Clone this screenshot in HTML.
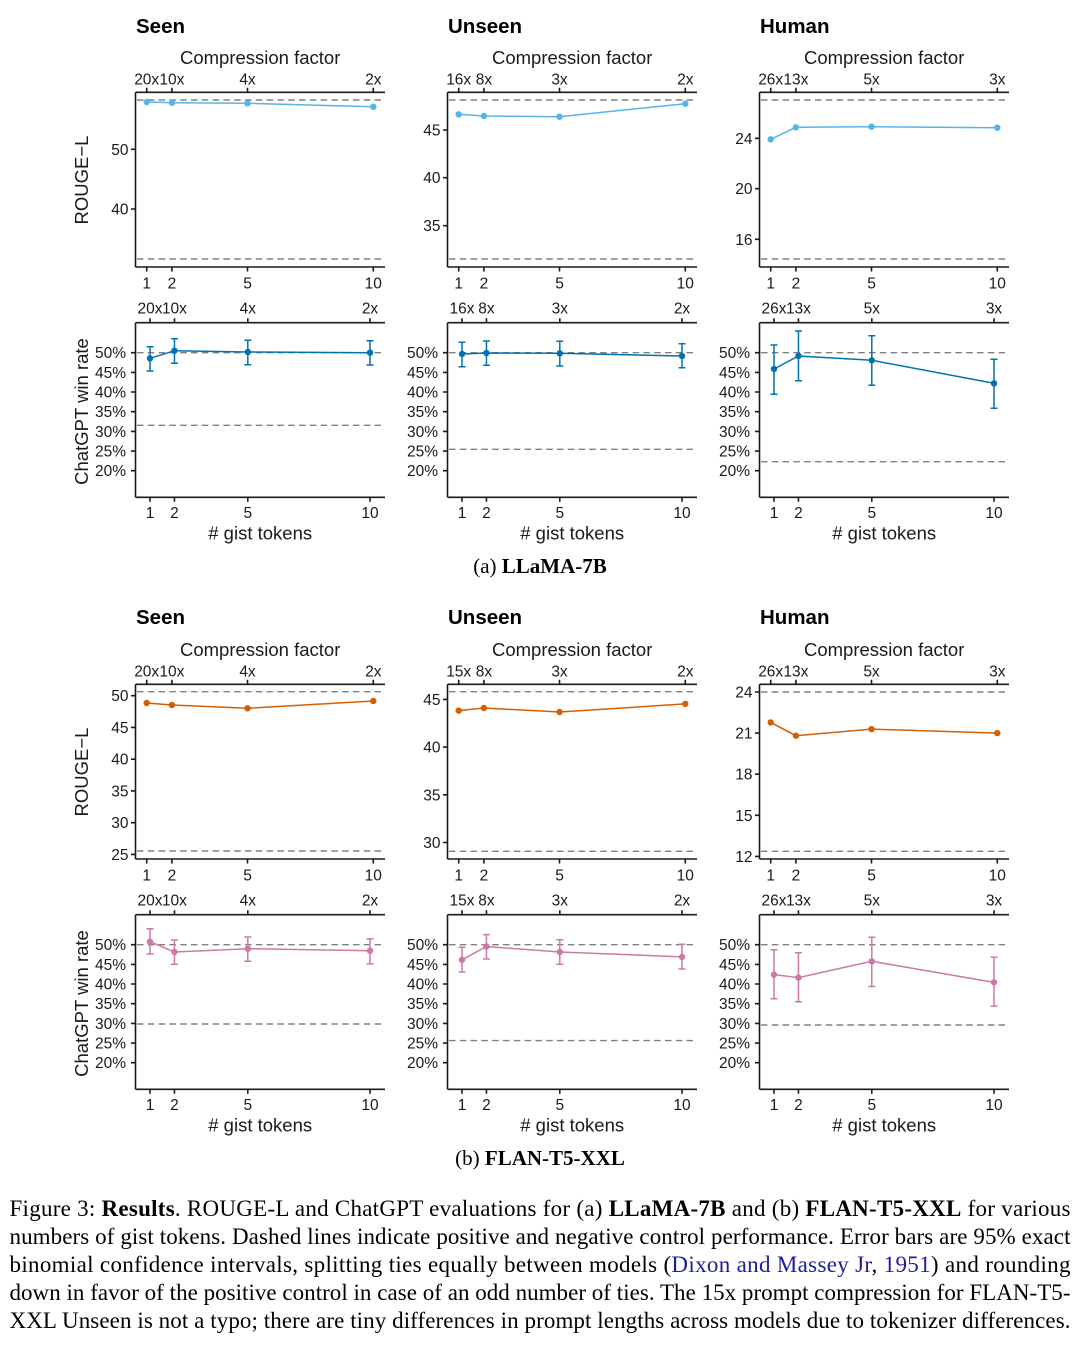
<!DOCTYPE html>
<html>
<head>
<meta charset="utf-8">
<style>
html,body{margin:0;padding:0;background:#fff;}
svg{display:block;}
.tk{font-family:"Liberation Sans",Arial,sans-serif;font-size:15.5px;fill:#1a1a1a;}
.ax{font-family:"Liberation Sans",Arial,sans-serif;font-size:18.5px;fill:#1a1a1a;}
.ti{font-family:"Liberation Sans",Arial,sans-serif;font-size:20.5px;font-weight:bold;fill:#000;}
.axl{stroke:#1a1a1a;stroke-width:1.6;fill:none;}
.dash{stroke:#808080;stroke-width:1.4;stroke-dasharray:6.5 4.3;fill:none;}
.cap{font-family:"Liberation Serif","Times New Roman",serif;font-size:23px;fill:#000;}
.sub{font-family:"Liberation Serif","Times New Roman",serif;font-size:21px;fill:#000;}
.lb{stroke:#56B4E9;}
.db{stroke:#0072B2;}
.or{stroke:#D55E00;}
.pk{stroke:#CC79A7;}
</style>
</head>
<body>
<svg width="1080" height="1358" viewBox="0 0 1080 1358" xmlns="http://www.w3.org/2000/svg">
<rect width="1080" height="1358" fill="#fff"/>

<!-- ===================== FIGURE A ===================== -->
<text class="ax" transform="translate(88,180) rotate(-90)" text-anchor="middle">ROUGE−L</text>
<text class="ax" transform="translate(88,411.5) rotate(-90)" text-anchor="middle">ChatGPT win rate</text>

<!-- A col1 ROUGE Seen -->
<g>
<text class="ti" x="136" y="33">Seen</text>
<text class="ax" x="260.2" y="64" text-anchor="middle">Compression factor</text>
<g class="tk" text-anchor="middle">
<text x="146.7" y="84.5">20x</text><text x="171.9" y="84.5">10x</text><text x="247.5" y="84.5">4x</text><text x="373.3" y="84.5">2x</text>
<text x="146.7" y="288.3">1</text><text x="171.9" y="288.3">2</text><text x="247.5" y="288.3">5</text><text x="373.3" y="288.3">10</text>
</g>
<g class="tk" text-anchor="end">
<text x="128.5" y="154.8">50</text><text x="128.5" y="214.5">40</text>
</g>
<path class="axl" d="M135.5 92.3H385M135.5 92.3V267M135.5 267H385M146.7 92.3V87.8M171.9 92.3V87.8M247.5 92.3V87.8M373.3 92.3V87.8M146.7 267V271.5M171.9 267V271.5M247.5 267V271.5M373.3 267V271.5M131 149.3H135.5M131 209H135.5"/>
<path class="dash" d="M137 100H381M137 259H381"/>
<polyline class="lb" fill="none" stroke-width="1.5" points="146.7,102 171.9,102.7 247.5,103.3 373.3,106.7"/>
<g fill="#56B4E9"><circle cx="146.7" cy="102" r="3.2"/><circle cx="171.9" cy="102.7" r="3.2"/><circle cx="247.5" cy="103.3" r="3.2"/><circle cx="373.3" cy="106.7" r="3.2"/></g>
</g>

<!-- A col2 ROUGE Unseen -->
<g transform="translate(312,0)">
<text class="ti" x="136" y="33">Unseen</text>
<text class="ax" x="260.2" y="64" text-anchor="middle">Compression factor</text>
<g class="tk" text-anchor="middle">
<text x="146.7" y="84.5">16x</text><text x="171.9" y="84.5">8x</text><text x="247.5" y="84.5">3x</text><text x="373.3" y="84.5">2x</text>
<text x="146.7" y="288.3">1</text><text x="171.9" y="288.3">2</text><text x="247.5" y="288.3">5</text><text x="373.3" y="288.3">10</text>
</g>
<g class="tk" text-anchor="end">
<text x="128.5" y="135.5">45</text><text x="128.5" y="183.2">40</text><text x="128.5" y="231.2">35</text>
</g>
<path class="axl" d="M135.5 92.3H385M135.5 92.3V267M135.5 267H385M146.7 92.3V87.8M171.9 92.3V87.8M247.5 92.3V87.8M373.3 92.3V87.8M146.7 267V271.5M171.9 267V271.5M247.5 267V271.5M373.3 267V271.5M131 130H135.5M131 177.7H135.5M131 225.7H135.5"/>
<path class="dash" d="M137 100H381M137 259H381"/>
<polyline class="lb" fill="none" stroke-width="1.5" points="146.7,114.3 171.9,116 247.5,116.7 373.3,103.7"/>
<g fill="#56B4E9"><circle cx="146.7" cy="114.3" r="3.2"/><circle cx="171.9" cy="116" r="3.2"/><circle cx="247.5" cy="116.7" r="3.2"/><circle cx="373.3" cy="103.7" r="3.2"/></g>
</g>

<!-- A col3 ROUGE Human -->
<g transform="translate(624,0)">
<text class="ti" x="136" y="33">Human</text>
<text class="ax" x="260.2" y="64" text-anchor="middle">Compression factor</text>
<g class="tk" text-anchor="middle">
<text x="146.7" y="84.5">26x</text><text x="171.9" y="84.5">13x</text><text x="247.5" y="84.5">5x</text><text x="373.3" y="84.5">3x</text>
<text x="146.7" y="288.3">1</text><text x="171.9" y="288.3">2</text><text x="247.5" y="288.3">5</text><text x="373.3" y="288.3">10</text>
</g>
<g class="tk" text-anchor="end">
<text x="128.5" y="143.8">24</text><text x="128.5" y="194.2">20</text><text x="128.5" y="244.8">16</text>
</g>
<path class="axl" d="M135.5 92.3H385M135.5 92.3V267M135.5 267H385M146.7 92.3V87.8M171.9 92.3V87.8M247.5 92.3V87.8M373.3 92.3V87.8M146.7 267V271.5M171.9 267V271.5M247.5 267V271.5M373.3 267V271.5M131 138.3H135.5M131 188.7H135.5M131 239.3H135.5"/>
<path class="dash" d="M137 100H381M137 259H381"/>
<polyline class="lb" fill="none" stroke-width="1.5" points="146.7,139.3 171.9,127.3 247.5,126.7 373.3,127.7"/>
<g fill="#56B4E9"><circle cx="146.7" cy="139.3" r="3.2"/><circle cx="171.9" cy="127.3" r="3.2"/><circle cx="247.5" cy="126.7" r="3.2"/><circle cx="373.3" cy="127.7" r="3.2"/></g>
</g>

<!-- A chat col1 -->
<g>
<g class="tk" text-anchor="middle">
<text x="150" y="313.5">20x</text><text x="174.45" y="313.5">10x</text><text x="247.8" y="313.5">4x</text><text x="370" y="313.5">2x</text>
<text x="150" y="517.8">1</text><text x="174.45" y="517.8">2</text><text x="247.8" y="517.8">5</text><text x="370" y="517.8">10</text>
</g>
<text class="ax" x="260.2" y="539.5" text-anchor="middle"># gist tokens</text>
<g class="tk" text-anchor="end">
<text x="126" y="358.2">50%</text><text x="126" y="377.9">45%</text><text x="126" y="397.5">40%</text><text x="126" y="417.2">35%</text><text x="126" y="436.9">30%</text><text x="126" y="456.6">25%</text><text x="126" y="476.2">20%</text>
</g>
<path class="axl" d="M135.5 322.7H385M135.5 322.7V497.3M135.5 497.3H385M150 322.7V318.2M174.45 322.7V318.2M247.8 322.7V318.2M370 322.7V318.2M150 497.3V501.8M174.45 497.3V501.8M247.8 497.3V501.8M370 497.3V501.8M131 352.7H135.5M131 372.4H135.5M131 392H135.5M131 411.7H135.5M131 431.4H135.5M131 451.1H135.5M131 470.7H135.5"/>
<path class="dash" d="M137 352.7H381M137 425.3H381"/>
<polyline class="db" fill="none" stroke-width="1.5" points="150,358.3 174.45,350.7 247.8,352 370,352.7"/>
<path class="db" stroke-width="1.5" fill="none" d="M150 346.7V371M146.5 346.7H153.5M146.5 371H153.5M174.45 338.7V363.3M170.95 338.7H177.95M170.95 363.3H177.95M247.8 340.3V364.7M244.3 340.3H251.3M244.3 364.7H251.3M370 340.7V365M366.5 340.7H373.5M366.5 365H373.5"/>
<g fill="#0072B2"><circle cx="150" cy="358.3" r="3.2"/><circle cx="174.45" cy="350.7" r="3.2"/><circle cx="247.8" cy="352" r="3.2"/><circle cx="370" cy="352.7" r="3.2"/></g>
</g>

<g transform="translate(312,0)">
<g class="tk" text-anchor="middle">
<text x="150" y="313.5">16x</text><text x="174.45" y="313.5">8x</text><text x="247.8" y="313.5">3x</text><text x="370" y="313.5">2x</text>
<text x="150" y="517.8">1</text><text x="174.45" y="517.8">2</text><text x="247.8" y="517.8">5</text><text x="370" y="517.8">10</text>
</g>
<text class="ax" x="260.2" y="539.5" text-anchor="middle"># gist tokens</text>
<g class="tk" text-anchor="end">
<text x="126" y="358.2">50%</text><text x="126" y="377.9">45%</text><text x="126" y="397.5">40%</text><text x="126" y="417.2">35%</text><text x="126" y="436.9">30%</text><text x="126" y="456.6">25%</text><text x="126" y="476.2">20%</text>
</g>
<path class="axl" d="M135.5 322.7H385M135.5 322.7V497.3M135.5 497.3H385M150 322.7V318.2M174.45 322.7V318.2M247.8 322.7V318.2M370 322.7V318.2M150 497.3V501.8M174.45 497.3V501.8M247.8 497.3V501.8M370 497.3V501.8M131 352.7H135.5M131 372.4H135.5M131 392H135.5M131 411.7H135.5M131 431.4H135.5M131 451.1H135.5M131 470.7H135.5"/>
<path class="dash" d="M137 352.7H381M137 449.3H381"/>
<polyline class="db" fill="none" stroke-width="1.5" points="150,354 174.45,353 247.8,353.3 370,356"/>
<path class="db" stroke-width="1.5" fill="none" d="M150 342.3V366.7M146.5 342.3H153.5M146.5 366.7H153.5M174.45 341V365.3M170.95 341H177.95M170.95 365.3H177.95M247.8 341.3V366M244.3 341.3H251.3M244.3 366H251.3M370 343.7V367.7M366.5 343.7H373.5M366.5 367.7H373.5"/>
<g fill="#0072B2"><circle cx="150" cy="354" r="3.2"/><circle cx="174.45" cy="353" r="3.2"/><circle cx="247.8" cy="353.3" r="3.2"/><circle cx="370" cy="356" r="3.2"/></g>
</g>

<g transform="translate(624,0)">
<g class="tk" text-anchor="middle">
<text x="150" y="313.5">26x</text><text x="174.45" y="313.5">13x</text><text x="247.8" y="313.5">5x</text><text x="370" y="313.5">3x</text>
<text x="150" y="517.8">1</text><text x="174.45" y="517.8">2</text><text x="247.8" y="517.8">5</text><text x="370" y="517.8">10</text>
</g>
<text class="ax" x="260.2" y="539.5" text-anchor="middle"># gist tokens</text>
<g class="tk" text-anchor="end">
<text x="126" y="358.2">50%</text><text x="126" y="377.9">45%</text><text x="126" y="397.5">40%</text><text x="126" y="417.2">35%</text><text x="126" y="436.9">30%</text><text x="126" y="456.6">25%</text><text x="126" y="476.2">20%</text>
</g>
<path class="axl" d="M135.5 322.7H385M135.5 322.7V497.3M135.5 497.3H385M150 322.7V318.2M174.45 322.7V318.2M247.8 322.7V318.2M370 322.7V318.2M150 497.3V501.8M174.45 497.3V501.8M247.8 497.3V501.8M370 497.3V501.8M131 352.7H135.5M131 372.4H135.5M131 392H135.5M131 411.7H135.5M131 431.4H135.5M131 451.1H135.5M131 470.7H135.5"/>
<path class="dash" d="M137 352.7H381M137 461.7H381"/>
<polyline class="db" fill="none" stroke-width="1.5" points="150,369 174.45,356 247.8,360.3 370,383.3"/>
<path class="db" stroke-width="1.5" fill="none" d="M150 345V394.3M146.5 345H153.5M146.5 394.3H153.5M174.45 331V380.7M170.95 331H177.95M170.95 380.7H177.95M247.8 335.7V385.3M244.3 335.7H251.3M244.3 385.3H251.3M370 359.3V408.3M366.5 359.3H373.5M366.5 408.3H373.5"/>
<g fill="#0072B2"><circle cx="150" cy="369" r="3.2"/><circle cx="174.45" cy="356" r="3.2"/><circle cx="247.8" cy="360.3" r="3.2"/><circle cx="370" cy="383.3" r="3.2"/></g>
</g>

<text class="sub" x="540" y="573" text-anchor="middle">(a) <tspan font-weight="bold">LLaMA-7B</tspan></text>

<!-- ===================== FIGURE B ===================== -->
<g transform="translate(0,592)">
<text class="ax" transform="translate(88,180) rotate(-90)" text-anchor="middle">ROUGE−L</text>
<text class="ax" transform="translate(88,411.5) rotate(-90)" text-anchor="middle">ChatGPT win rate</text>

<g>
<text class="ti" x="136" y="32">Seen</text>
<text class="ax" x="260.2" y="64" text-anchor="middle">Compression factor</text>
<g class="tk" text-anchor="middle">
<text x="146.7" y="84.5">20x</text><text x="171.9" y="84.5">10x</text><text x="247.5" y="84.5">4x</text><text x="373.3" y="84.5">2x</text>
<text x="146.7" y="288.3">1</text><text x="171.9" y="288.3">2</text><text x="247.5" y="288.3">5</text><text x="373.3" y="288.3">10</text>
</g>
<g class="tk" text-anchor="end">
<text x="128.5" y="109.2">50</text><text x="128.5" y="140.9">45</text><text x="128.5" y="172.7">40</text><text x="128.5" y="204.4">35</text><text x="128.5" y="236.2">30</text><text x="128.5" y="267.9">25</text>
</g>
<path class="axl" d="M135.5 92.3H385M135.5 92.3V267M135.5 267H385M146.7 92.3V87.8M171.9 92.3V87.8M247.5 92.3V87.8M373.3 92.3V87.8M146.7 267V271.5M171.9 267V271.5M247.5 267V271.5M373.3 267V271.5M131 103.7H135.5M131 135.4H135.5M131 167.2H135.5M131 198.9H135.5M131 230.7H135.5M131 262.4H135.5"/>
<path class="dash" d="M137 99.7H381M137 259H381"/>
<polyline class="or" fill="none" stroke-width="1.5" points="146.7,111 171.9,113 247.5,116.3 373.3,109"/>
<g fill="#D55E00"><circle cx="146.7" cy="111" r="3.2"/><circle cx="171.9" cy="113" r="3.2"/><circle cx="247.5" cy="116.3" r="3.2"/><circle cx="373.3" cy="109" r="3.2"/></g>
</g>

<g transform="translate(312,0)">
<text class="ti" x="136" y="32">Unseen</text>
<text class="ax" x="260.2" y="64" text-anchor="middle">Compression factor</text>
<g class="tk" text-anchor="middle">
<text x="146.7" y="84.5">15x</text><text x="171.9" y="84.5">8x</text><text x="247.5" y="84.5">3x</text><text x="373.3" y="84.5">2x</text>
<text x="146.7" y="288.3">1</text><text x="171.9" y="288.3">2</text><text x="247.5" y="288.3">5</text><text x="373.3" y="288.3">10</text>
</g>
<g class="tk" text-anchor="end">
<text x="128.5" y="112.9">45</text><text x="128.5" y="160.6">40</text><text x="128.5" y="208.3">35</text><text x="128.5" y="256">30</text>
</g>
<path class="axl" d="M135.5 92.3H385M135.5 92.3V267M135.5 267H385M146.7 92.3V87.8M171.9 92.3V87.8M247.5 92.3V87.8M373.3 92.3V87.8M146.7 267V271.5M171.9 267V271.5M247.5 267V271.5M373.3 267V271.5M131 107.4H135.5M131 155.1H135.5M131 202.8H135.5M131 250.5H135.5"/>
<path class="dash" d="M137 99.7H381M137 259.3H381"/>
<polyline class="or" fill="none" stroke-width="1.5" points="146.7,118.6 171.9,116 247.5,120 373.3,111.9"/>
<g fill="#D55E00"><circle cx="146.7" cy="118.6" r="3.2"/><circle cx="171.9" cy="116" r="3.2"/><circle cx="247.5" cy="120" r="3.2"/><circle cx="373.3" cy="111.9" r="3.2"/></g>
</g>

<g transform="translate(624,0)">
<text class="ti" x="136" y="32">Human</text>
<text class="ax" x="260.2" y="64" text-anchor="middle">Compression factor</text>
<g class="tk" text-anchor="middle">
<text x="146.7" y="84.5">26x</text><text x="171.9" y="84.5">13x</text><text x="247.5" y="84.5">5x</text><text x="373.3" y="84.5">3x</text>
<text x="146.7" y="288.3">1</text><text x="171.9" y="288.3">2</text><text x="247.5" y="288.3">5</text><text x="373.3" y="288.3">10</text>
</g>
<g class="tk" text-anchor="end">
<text x="128.5" y="105.5">24</text><text x="128.5" y="146.6">21</text><text x="128.5" y="187.7">18</text><text x="128.5" y="228.8">15</text><text x="128.5" y="269.9">12</text>
</g>
<path class="axl" d="M135.5 92.3H385M135.5 92.3V267M135.5 267H385M146.7 92.3V87.8M171.9 92.3V87.8M247.5 92.3V87.8M373.3 92.3V87.8M146.7 267V271.5M171.9 267V271.5M247.5 267V271.5M373.3 267V271.5M131 100H135.5M131 141.1H135.5M131 182.2H135.5M131 223.3H135.5M131 264.4H135.5"/>
<path class="dash" d="M137 100H381M137 259.3H381"/>
<polyline class="or" fill="none" stroke-width="1.5" points="146.7,130.4 171.9,143.7 247.5,137.1 373.3,141.1"/>
<g fill="#D55E00"><circle cx="146.7" cy="130.4" r="3.2"/><circle cx="171.9" cy="143.7" r="3.2"/><circle cx="247.5" cy="137.1" r="3.2"/><circle cx="373.3" cy="141.1" r="3.2"/></g>
</g>

<g>
<g class="tk" text-anchor="middle">
<text x="150" y="313.5">20x</text><text x="174.45" y="313.5">10x</text><text x="247.8" y="313.5">4x</text><text x="370" y="313.5">2x</text>
<text x="150" y="517.8">1</text><text x="174.45" y="517.8">2</text><text x="247.8" y="517.8">5</text><text x="370" y="517.8">10</text>
</g>
<text class="ax" x="260.2" y="539.5" text-anchor="middle"># gist tokens</text>
<g class="tk" text-anchor="end">
<text x="126" y="358.2">50%</text><text x="126" y="377.9">45%</text><text x="126" y="397.5">40%</text><text x="126" y="417.2">35%</text><text x="126" y="436.9">30%</text><text x="126" y="456.6">25%</text><text x="126" y="476.2">20%</text>
</g>
<path class="axl" d="M135.5 322.7H385M135.5 322.7V497.3M135.5 497.3H385M150 322.7V318.2M174.45 322.7V318.2M247.8 322.7V318.2M370 322.7V318.2M150 497.3V501.8M174.45 497.3V501.8M247.8 497.3V501.8M370 497.3V501.8M131 352.7H135.5M131 372.4H135.5M131 392H135.5M131 411.7H135.5M131 431.4H135.5M131 451.1H135.5M131 470.7H135.5"/>
<path class="dash" d="M137 352.7H381M137 432H381"/>
<polyline class="pk" fill="none" stroke-width="1.5" points="150,349.7 174.45,360 247.8,356.7 370,358.7"/>
<path class="pk" stroke-width="1.5" fill="none" d="M150 336.7V362M146.5 336.7H153.5M146.5 362H153.5M174.45 348V372.3M170.95 348H177.95M170.95 372.3H177.95M247.8 345V369.3M244.3 345H251.3M244.3 369.3H251.3M370 346.7V371.7M366.5 346.7H373.5M366.5 371.7H373.5"/>
<g fill="#CC79A7"><circle cx="150" cy="349.7" r="3.2"/><circle cx="174.45" cy="360" r="3.2"/><circle cx="247.8" cy="356.7" r="3.2"/><circle cx="370" cy="358.7" r="3.2"/></g>
</g>

<g transform="translate(312,0)">
<g class="tk" text-anchor="middle">
<text x="150" y="313.5">15x</text><text x="174.45" y="313.5">8x</text><text x="247.8" y="313.5">3x</text><text x="370" y="313.5">2x</text>
<text x="150" y="517.8">1</text><text x="174.45" y="517.8">2</text><text x="247.8" y="517.8">5</text><text x="370" y="517.8">10</text>
</g>
<text class="ax" x="260.2" y="539.5" text-anchor="middle"># gist tokens</text>
<g class="tk" text-anchor="end">
<text x="126" y="358.2">50%</text><text x="126" y="377.9">45%</text><text x="126" y="397.5">40%</text><text x="126" y="417.2">35%</text><text x="126" y="436.9">30%</text><text x="126" y="456.6">25%</text><text x="126" y="476.2">20%</text>
</g>
<path class="axl" d="M135.5 322.7H385M135.5 322.7V497.3M135.5 497.3H385M150 322.7V318.2M174.45 322.7V318.2M247.8 322.7V318.2M370 322.7V318.2M150 497.3V501.8M174.45 497.3V501.8M247.8 497.3V501.8M370 497.3V501.8M131 352.7H135.5M131 372.4H135.5M131 392H135.5M131 411.7H135.5M131 431.4H135.5M131 451.1H135.5M131 470.7H135.5"/>
<path class="dash" d="M137 352.7H381M137 448.6H381"/>
<polyline class="pk" fill="none" stroke-width="1.5" points="150,367.8 174.45,354.5 247.8,360 370,364.9"/>
<path class="pk" stroke-width="1.5" fill="none" d="M150 355.2V380M146.5 355.2H153.5M146.5 380H153.5M174.45 342.6V367M170.95 342.6H177.95M170.95 367H177.95M247.8 347.8V372.3M244.3 347.8H251.3M244.3 372.3H251.3M370 352.3V377M366.5 352.3H373.5M366.5 377H373.5"/>
<g fill="#CC79A7"><circle cx="150" cy="367.8" r="3.2"/><circle cx="174.45" cy="354.5" r="3.2"/><circle cx="247.8" cy="360" r="3.2"/><circle cx="370" cy="364.9" r="3.2"/></g>
</g>

<g transform="translate(624,0)">
<g class="tk" text-anchor="middle">
<text x="150" y="313.5">26x</text><text x="174.45" y="313.5">13x</text><text x="247.8" y="313.5">5x</text><text x="370" y="313.5">3x</text>
<text x="150" y="517.8">1</text><text x="174.45" y="517.8">2</text><text x="247.8" y="517.8">5</text><text x="370" y="517.8">10</text>
</g>
<text class="ax" x="260.2" y="539.5" text-anchor="middle"># gist tokens</text>
<g class="tk" text-anchor="end">
<text x="126" y="358.2">50%</text><text x="126" y="377.9">45%</text><text x="126" y="397.5">40%</text><text x="126" y="417.2">35%</text><text x="126" y="436.9">30%</text><text x="126" y="456.6">25%</text><text x="126" y="476.2">20%</text>
</g>
<path class="axl" d="M135.5 322.7H385M135.5 322.7V497.3M135.5 497.3H385M150 322.7V318.2M174.45 322.7V318.2M247.8 322.7V318.2M370 322.7V318.2M150 497.3V501.8M174.45 497.3V501.8M247.8 497.3V501.8M370 497.3V501.8M131 352.7H135.5M131 372.4H135.5M131 392H135.5M131 411.7H135.5M131 431.4H135.5M131 451.1H135.5M131 470.7H135.5"/>
<path class="dash" d="M137 352.7H381M137 433H381"/>
<polyline class="pk" fill="none" stroke-width="1.5" points="150,382.6 174.45,385.6 247.8,369.3 370,390.4"/>
<path class="pk" stroke-width="1.5" fill="none" d="M150 357.8V406.7M146.5 357.8H153.5M146.5 406.7H153.5M174.45 360.8V409.7M170.95 360.8H177.95M170.95 409.7H177.95M247.8 345.2V394.5M244.3 345.2H251.3M244.3 394.5H251.3M370 365.2V414.1M366.5 365.2H373.5M366.5 414.1H373.5"/>
<g fill="#CC79A7"><circle cx="150" cy="382.6" r="3.2"/><circle cx="174.45" cy="385.6" r="3.2"/><circle cx="247.8" cy="369.3" r="3.2"/><circle cx="370" cy="390.4" r="3.2"/></g>
</g>

<text class="sub" x="540" y="573" text-anchor="middle">(b) <tspan font-weight="bold">FLAN-T5-XXL</tspan></text>
</g>

<!-- ===================== CAPTION ===================== -->
<text class="cap" x="9.5" y="1216" textLength="1061" lengthAdjust="spacing">Figure 3: <tspan font-weight="bold">Results</tspan>. ROUGE-L and ChatGPT evaluations for (a) <tspan font-weight="bold">LLaMA-7B</tspan> and (b) <tspan font-weight="bold">FLAN-T5-XXL</tspan> for various</text>
<text class="cap" x="9.5" y="1244" textLength="1061" lengthAdjust="spacing">numbers of gist tokens. Dashed lines indicate positive and negative control performance. Error bars are 95% exact</text>
<text class="cap" x="9.5" y="1272" textLength="1061" lengthAdjust="spacing">binomial confidence intervals, splitting ties equally between models (<tspan fill="#1c1c9c">Dixon and Massey Jr</tspan>, <tspan fill="#1c1c9c">1951</tspan>) and rounding</text>
<text class="cap" x="9.5" y="1300" textLength="1061" lengthAdjust="spacing">down in favor of the positive control in case of an odd number of ties. The 15x prompt compression for FLAN-T5-</text>
<text class="cap" x="9.5" y="1328" textLength="1061" lengthAdjust="spacing">XXL Unseen is not a typo; there are tiny differences in prompt lengths across models due to tokenizer differences.</text>
</svg>
</body>
</html>
